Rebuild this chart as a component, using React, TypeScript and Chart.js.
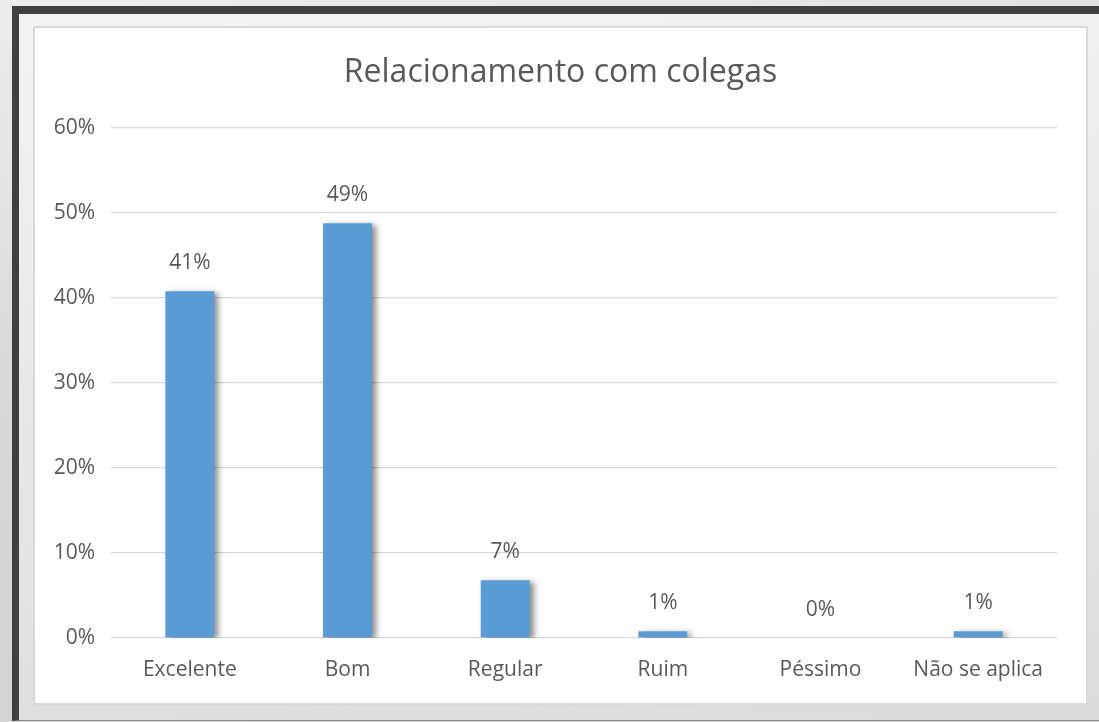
import React, { useEffect, useRef } from "react";
import { Chart, registerables } from "chart.js";

Chart.register(...registerables);

const categories = ["Excelente", "Bom", "Regular", "Ruim", "Péssimo", "Não se aplica"];
const percentValues = [40.8, 48.8, 6.8, 0.8, 0, 0.8];
const yTicks = [0, 10, 20, 30, 40, 50, 60];
const chartTitle = "Relacionamento com colegas";

const FONT = "'Open Sans', 'DejaVu Sans', sans-serif";
const TEXT = "#595959";

const shadowPlugin = {
  id: "barShadow",
  beforeDatasetsDraw(chart: any) {
    const ctx = chart.ctx;
    ctx.save();
    ctx.shadowColor = "rgba(0,0,0,0.45)";
    ctx.shadowBlur = 6;
    ctx.shadowOffsetX = 4;
    ctx.shadowOffsetY = 2;
  },
  afterDatasetsDraw(chart: any) {
    const ctx = chart.ctx;
    ctx.restore();
    const meta = chart.getDatasetMeta(0);
    ctx.save();
    ctx.font = `21px ${FONT}`;
    ctx.fillStyle = TEXT;
    ctx.textAlign = "center";
    ctx.textBaseline = "alphabetic";
    meta.data.forEach((bar: any, i: number) => {
      const v = percentValues[i];
      ctx.fillText(`${Math.round(v)}%`, bar.x, bar.y - 22);
    });
    ctx.restore();
  },
};

export default function App() {
  const ref = useRef<HTMLCanvasElement | null>(null);
  useEffect(() => {
    if (!ref.current) return;
    const chart = new Chart(ref.current, {
      type: "bar",
      data: {
        labels: categories,
        datasets: [
          {
            data: percentValues,
            backgroundColor: "#5b9bd5",
            borderWidth: 0,
            categoryPercentage: 1,
            barPercentage: 0.31,
            yAxisID: "y",
          },
        ],
      },
      plugins: [shadowPlugin],
      options: {
        animation: false,
        responsive: false,
        maintainAspectRatio: false,
        layout: { padding: 0 },
        plugins: {
          legend: { display: false },
          tooltip: { enabled: false },
          title: {
            display: true,
            text: chartTitle,
            color: TEXT,
            font: { family: FONT, size: 32, weight: "normal" as any, lineHeight: 1.2 },
            padding: { top: 26, bottom: 35.6 },
          },
        },
        scales: {
          x: {
            grid: { display: false, drawTicks: false },
            border: { display: false },
            ticks: {
              color: TEXT,
              font: { family: FONT, size: 21 },
              padding: 19,
              maxRotation: 0,
              autoSkip: false,
            },
            afterFit(scale: any) {
              scale.height = 65;
            },
          },
          y: {
            min: 0,
            max: 60,
            afterBuildTicks(scale: any) {
              scale.ticks = yTicks.map((v) => ({ value: v }));
            },
            grid: { color: "#d9d9d9", lineWidth: 1.3, drawTicks: false },
            border: { display: false },
            ticks: {
              color: TEXT,
              font: { family: FONT, size: 21 },
              padding: 16,
              callback: (v: any) => `${v}%`,
            },
            afterFit(scale: any) {
              scale.width = 76;
            },
          },
          yRight: {
            position: "right",
            display: true,
            min: 0,
            max: 60,
            grid: { display: false, drawTicks: false },
            border: { display: false },
            ticks: { display: false },
            afterFit(scale: any) {
              scale.width = 29;
            },
          },
        },
      },
    });
    return () => chart.destroy();
  }, []);

  return (
    <div
      style={{
        position: "fixed",
        left: 0,
        top: 0,
        width: 1099,
        height: 722,
        overflow: "hidden",
        background: "linear-gradient(170deg, #eeeeee 0%, #dadada 40%, #d0d0d0 100%)",
      }}
    >
      <div
        style={{
          position: "absolute",
          left: 12,
          top: 6,
          width: 1120,
          height: 715,
          boxSizing: "border-box",
          borderLeft: "7px solid #404040",
          borderTop: "8px solid #404040",
          borderBottom: "1px solid #8c8c8c",
          background: "linear-gradient(175deg, #f3f3f3 0%, #ececec 35%, #dcdcdc 100%)",
        }}
      />
      <div
        style={{
          position: "absolute",
          left: 33,
          top: 26,
          width: 1055,
          height: 679,
          boxSizing: "border-box",
          border: "2px solid #d9d9d9",
          background: "#ffffff",
        }}
      >
        <canvas ref={ref} width={1051} height={675} style={{ display: "block" }} />
      </div>
    </div>
  );
}
